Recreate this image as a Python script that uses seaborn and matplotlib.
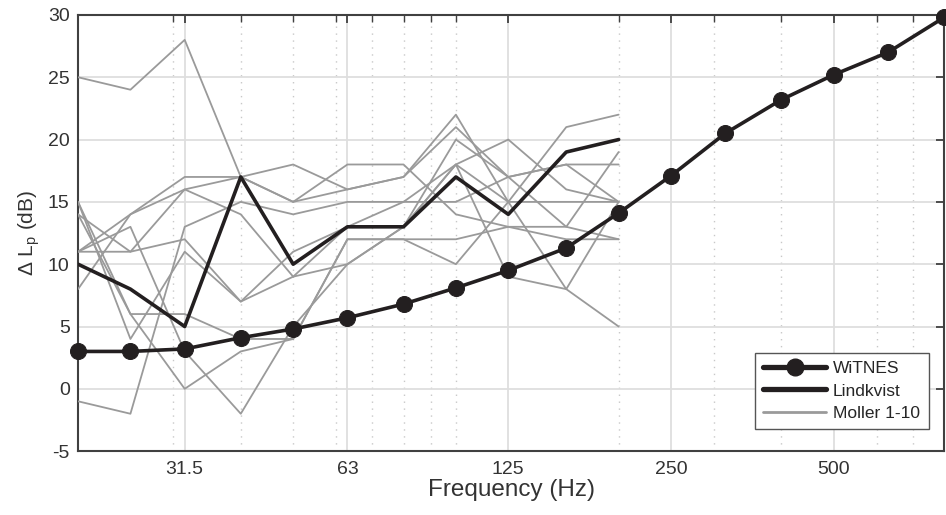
import numpy as np
import pandas as pd
import matplotlib
matplotlib.use('Agg')
import matplotlib.pyplot as plt
import seaborn as sns
from matplotlib.lines import Line2D
from matplotlib.ticker import FixedLocator, NullFormatter

# third-octave band centres
freq_all = [20, 25, 31.5, 40, 50, 63, 80, 100, 125, 160, 200, 250, 315, 400, 500, 630, 800]
witnes = [3.0, 3.0, 3.2, 4.1, 4.8, 5.7, 6.8, 8.1, 9.5, 11.3, 14.1, 17.1, 20.5, 23.2, 25.2, 27.0, 29.8]

freq_low = [20, 25, 31.5, 40, 50, 63, 80, 100, 125, 160, 200]
lindkvist = [10, 8, 5, 17, 10, 13, 13, 17, 14, 19, 20]

moller_1 = [25, 24, 28, 17, 18, 16, 17, 22, 15, 21, 22]
moller_2 = [15, 4, 11, 7, 9, 13, 13, 18, 20, 16, 15]
moller_3 = [14, 6, 6, 4, 4, 12, 12, 12, 13, 13, 12]
moller_4 = [11, 11, 12, 7, 11, 13, 15, 15, 17, 18, 15]
moller_5 = [11, 14, 16, 17, 15, 18, 18, 14, 13, 12, 12]
moller_6 = [8, 14, 17, 17, 15, 16, 17, 21, 17, 18, 18]
moller_7 = [-1, -2, 13, 15, 14, 15, 15, 18, 15, 15, 15]
moller_8 = [11, 13, 3, -2, 5, 10, 13, 20, 17, 13, 19]
moller_9 = [15, 6, 0, 3, 4, 12, 12, 10, 15, 8, 15]
moller_10 = [14, 11, 16, 14, 9, 10, 13, 18, 9, 8, 5]
moller = [moller_1, moller_2, moller_3, moller_4, moller_5,
          moller_6, moller_7, moller_8, moller_9, moller_10]

major_ticks = [31.5, 63, 125, 250, 500]
major_labels = ['31.5', '63', '125', '250', '500']
minor_ticks = [30, 40, 50, 60, 70, 80, 90, 100, 200, 300, 400, 600, 700]

df_m = pd.DataFrame({
    'f': freq_low * len(moller),
    'v': np.concatenate(moller),
    'run': np.repeat(np.arange(1, len(moller) + 1), len(freq_low)),
})
df_w = pd.DataFrame({'f': freq_all, 'v': witnes})
df_l = pd.DataFrame({'f': freq_low, 'v': lindkvist})

sns.set_style('white')
plt.rcParams['font.family'] = ['Liberation Sans', 'DejaVu Sans']
plt.rcParams['mathtext.default'] = 'regular'
plt.rcParams['axes.unicode_minus'] = False

fig = plt.figure(figsize=(9.46, 5.15), dpi=100)
ax = fig.add_axes([0.0825, 0.124, 0.9155, 0.847])

grey = '#9a9a9a'
dark = '#231f20'
sns.lineplot(data=df_m, x='f', y='v', units='run', estimator=None,
             color=grey, lw=1.3, ax=ax, legend=False, zorder=3)
sns.lineplot(data=df_l, x='f', y='v', color=dark, lw=2.6, ax=ax, zorder=4)
sns.lineplot(data=df_w, x='f', y='v', color=dark, lw=2.6, marker='o',
             markersize=11.5, markeredgecolor=dark, ax=ax, zorder=5, clip_on=False)

ax.set_xscale('log')
ax.set_xlim(20, 800)
ax.set_ylim(-5, 30)
ax.xaxis.set_major_locator(FixedLocator(major_ticks))
ax.set_xticklabels(major_labels)
ax.xaxis.set_minor_locator(FixedLocator(minor_ticks))
ax.xaxis.set_minor_formatter(NullFormatter())
ax.set_yticks(range(-5, 31, 5))

ax.grid(True, which='major', color='#dedede', lw=1.3, zorder=0)
ax.grid(True, which='minor', axis='x', color='#c8c8c8', lw=1.0, ls=(0, (1, 4)), zorder=0)
ax.set_axisbelow(True)

for s in ax.spines.values():
    s.set_visible(True)
    s.set_color('#404040')
    s.set_linewidth(1.5)
ax.tick_params(which='both', direction='in', top=True, right=True,
               colors='#404040', labelcolor='#333333', labelsize=14)
ax.tick_params(which='major', length=6, width=1.3)
ax.tick_params(which='minor', length=5, width=1.0)
ax.tick_params(axis='x', pad=7)
ax.tick_params(axis='y', pad=6)

ax.set_xlabel('Frequency (Hz)', fontsize=17.5, color='#333333', labelpad=1)
ax.set_ylabel(r'Δ L$_p$ (dB)', fontsize=15, color='#333333', labelpad=4)

handles = [
    Line2D([], [], color=dark, lw=3.8, marker='o', markersize=12),
    Line2D([], [], color=dark, lw=3.8),
    Line2D([], [], color=grey, lw=2),
]
leg = ax.legend(handles, ['WiTNES', 'Lindkvist', 'Moller 1-10'],
                loc='lower right', bbox_to_anchor=(0.982, 0.05), fontsize=12.5,
                frameon=True, fancybox=False, framealpha=1, edgecolor='#555555',
                handlelength=3.6, borderpad=0.5, labelspacing=0.4, handletextpad=0.4,
                borderaxespad=0)
leg.get_frame().set_linewidth(1.0)
leg.set_zorder(10)

fig.savefig('out.png', dpi=100)
